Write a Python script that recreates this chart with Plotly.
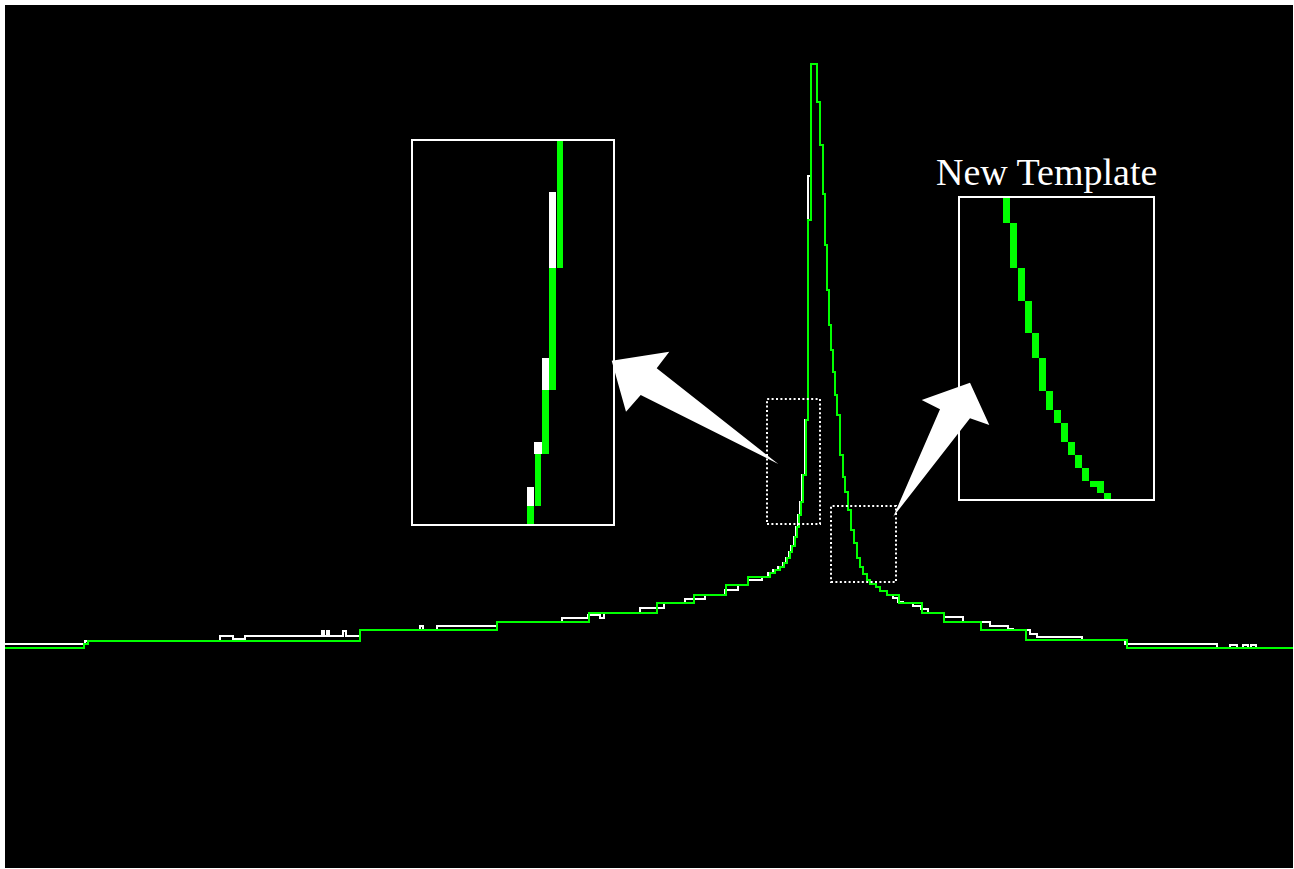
import plotly.graph_objects as go

# ---------------- data (channel, counts) ----------------
green_ch = [0, 79, 83, 355, 492, 584, 652, 689, 721, 743, 765, 770, 775, 779, 782, 785, 787, 790, 792, 794,
            796, 798, 801, 803, 806, 812, 815, 818, 820, 822, 824, 826, 828, 830, 832, 835, 838, 840, 843,
            846, 849, 852, 855, 858, 862, 865, 871, 875, 882, 894, 917, 939, 976, 1021, 1122, 1288]
green_cnt = [220, 224, 227, 238, 246, 255, 265, 273, 283, 291, 295, 298, 301, 305, 310, 316, 322, 331, 341, 353,
             366, 393, 448, 648, 804, 766, 723, 674, 623, 578, 543, 518, 496, 473, 453, 413, 391, 376, 358,
             338, 325, 310, 301, 294, 288, 284, 281, 277, 273, 265, 255, 246, 238, 228, 220, 220]

white_ch = [0, 80, 215, 228, 240, 317, 319, 322, 324, 338, 341, 355, 415, 418, 432, 492, 557, 583, 595, 599,
            635, 659, 680, 700, 720, 733, 743, 757, 763, 768, 773, 778, 781, 784, 786, 789, 791, 793, 795, 797,
            800, 803, 806, 812, 815, 818, 820, 822, 824, 826, 828, 830, 832, 835, 838, 840, 843, 846, 849,
            852, 855, 858, 862, 865, 871, 875, 882, 888, 893, 898, 908, 916, 923, 939, 958, 985, 1003, 1008, 1025,
            1032, 1077, 1120, 1212, 1225, 1232, 1238, 1243, 1246, 1251, 1288]
white_cnt = [224, 227, 232, 229, 232, 237, 232, 237, 232, 237, 232, 238, 242, 238, 242, 246, 250, 253, 250, 255,
             260, 265, 269, 273, 278, 283, 288, 291, 295, 298, 301, 305, 310, 316, 322, 331, 341, 353, 366, 393,
             448, 692, 804, 766, 723, 674, 623, 578, 543, 518, 496, 473, 453, 413, 391, 376, 358, 338, 325,
             310, 301, 294, 288, 284, 281, 277, 273, 270, 266, 265, 262, 259, 255, 251, 246, 242, 239, 238, 234,
             231, 228, 224, 220, 223, 220, 223, 220, 223, 220, 220]

# zoomed inset (left): pixel columns, low/high extent
zoomL_green_col = [148.0, 140.7, 133.3, 126.0, 118.7]
zoomL_green_lo = [257, 135, 71, 19, 0]
zoomL_green_hi = [385, 257, 135, 71, 19]
zoomL_white_col = [140.7, 133.3, 126.0, 118.7]
zoomL_white_lo = [257, 135, 71, 19]
zoomL_white_hi = [333, 167, 83, 38]

# zoomed inset (right, "New Template")
zoomR_green_col = [47.7, 54.9, 62.1, 69.3, 76.5, 83.7, 90.9, 98.1, 105.3, 112.5, 119.7, 126.9, 134.1, 141.3, 148.5]
zoomR_green_lo = [277, 232, 199, 167, 142, 109, 90, 77, 58, 45, 32, 19, 13, 7, 0]
zoomR_green_hi = [303, 277, 232, 199, 167, 142, 109, 90, 77, 58, 45, 32, 19, 19, 7]

label_text = "New Template"

# ---------------- layout helpers ----------------
W, H = 1294, 869
ML, MR, MT, MB = 5, 1, 5, 1
PW, PH = W - ML - MR, H - MT - MB
LW = 2  # inset frame width


def dom_x(p0, p1):
    return [(p0 - ML) / PW, (p1 - ML) / PW]


def dom_y(top, bottom):
    return [(H - MB - bottom) / PH, (H - MB - top) / PH]


def inset(left, right, top, bottom):
    # frame line centred on given pixel box; axis lines are drawn outside the domain
    d = LW / 2
    l, r, t, b = left + d, right - d, top + d, bottom - d
    return (dom_x(l, r), dom_y(t, b), [l - left, r - left], [bottom - b, bottom - t])


GREEN = "#00ff00"
WHITE = "#ffffff"

fig = go.Figure()

fig.add_trace(go.Scatter(x=white_ch, y=white_cnt, mode="lines", line=dict(color=WHITE, width=2, shape="hv"),
                         hoverinfo="skip", showlegend=False))
fig.add_trace(go.Scatter(x=green_ch, y=green_cnt, mode="lines", line=dict(color=GREEN, width=2, shape="hv"),
                         hoverinfo="skip", showlegend=False))

# left inset
fig.add_trace(go.Bar(x=zoomL_white_col, base=zoomL_white_lo,
                     y=[h - l for h, l in zip(zoomL_white_hi, zoomL_white_lo)],
                     width=7.3, marker=dict(color=WHITE, line=dict(width=0)),
                     xaxis="x2", yaxis="y2", showlegend=False, hoverinfo="skip"))
fig.add_trace(go.Bar(x=zoomL_green_col, base=zoomL_green_lo,
                     y=[h - l for h, l in zip(zoomL_green_hi, zoomL_green_lo)],
                     width=6.8, marker=dict(color=GREEN, line=dict(width=0)),
                     xaxis="x2", yaxis="y2", showlegend=False, hoverinfo="skip"))
# right inset
fig.add_trace(go.Bar(x=zoomR_green_col, base=zoomR_green_lo,
                     y=[h - l for h, l in zip(zoomR_green_hi, zoomR_green_lo)],
                     width=7.0, marker=dict(color=GREEN, line=dict(width=0)),
                     xaxis="x3", yaxis="y3", showlegend=False, hoverinfo="skip"))

hidden = dict(showgrid=False, zeroline=False, showticklabels=False, ticks="", fixedrange=True)
inset_ax = dict(hidden, showline=True, mirror=True, linecolor=WHITE, linewidth=LW)

dxL, dyL, rxL, ryL = inset(412, 614, 140, 525)
dxR, dyR, rxR, ryR = inset(959, 1154, 197, 500)

shapes = []
# dotted zoom regions (in data units)
for x0, x1, y0, y1 in [(762, 815, 344, 469), (826, 891, 286, 362)]:
    shapes.append(dict(type="rect", xref="x", yref="y", x0=x0, x1=x1, y0=y0, y1=y1,
                       line=dict(color=WHITE, width=2, dash="2px,2.4px"), layer="above"))

# arrows
arrowL = [(606.7, 507.3), (664.3, 516.3), (651.7, 499.7), (773.3, 404), (635.7, 473), (621, 456.3)]
arrowR = [(965, 485.3), (984.3, 443), (965, 449.7), (888.3, 351.3), (935, 458.7), (916.7, 468)]
for poly in (arrowL, arrowR):
    path = "M " + " L ".join(f"{x},{y}" for x, y in poly) + " Z"
    shapes.append(dict(type="path", xref="x", yref="y", path=path, fillcolor=WHITE,
                       line=dict(width=0), layer="above"))

fig.update_layout(
    width=W, height=H,
    margin=dict(l=ML, r=MR, t=MT, b=MB, pad=0),
    paper_bgcolor="white", plot_bgcolor="black",
    barmode="overlay", bargap=0,
    showlegend=False,
    xaxis=dict(hidden, range=[0, PW], domain=[0, 1]),
    yaxis=dict(hidden, range=[0, PH], domain=[0, 1]),
    xaxis2=dict(inset_ax, range=rxL, domain=dxL, anchor="y2"),
    yaxis2=dict(inset_ax, range=ryL, domain=dyL, anchor="x2"),
    xaxis3=dict(inset_ax, range=rxR, domain=dxR, anchor="y3"),
    yaxis3=dict(inset_ax, range=ryR, domain=dyR, anchor="x3"),
    shapes=shapes,
    annotations=[dict(text=label_text, xref="x", yref="y", x=1041, y=696, showarrow=False,
                      xanchor="center", yanchor="middle",
                      font=dict(family="Liberation Serif, Times New Roman, serif", size=38, color=WHITE))],
)

fig.write_html("out.html", config={"displayModeBar": False})
